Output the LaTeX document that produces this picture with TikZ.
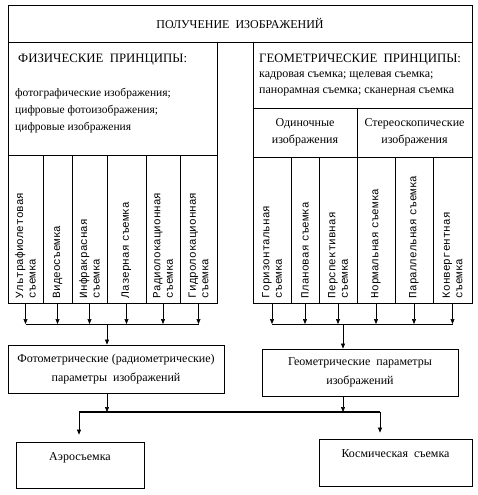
\documentclass[tikz,border=0pt]{standalone}
\usepackage{fontspec}
\setmainfont{Liberation Serif}
\newfontfamily\colfont{Liberation Mono}
\usetikzlibrary{positioning, arrows.meta}

\begin{document}
\begin{tikzpicture}[x=1pt, y=-1pt,
    box/.style={draw, line width=0.8pt, inner sep=0pt, align=center, font=\fontsize{12}{19}\selectfont},
    txt/.style={inner sep=0pt, align=left, font=\fontsize{11.5}{17}\selectfont},
    head/.style={inner sep=0pt, font=\fontsize{12.8}{15}\selectfont},
    col/.style={draw, line width=0.6pt, rotate=90, minimum height=#1, minimum width=148pt, text width=138pt,
        inner xsep=5pt, inner ysep=0pt, align=left, font=\colfont\fontsize{11}{12.5}\selectfont},
    rcol/.style={col=#1, minimum width=146pt, text width=136pt},
    arr/.style={-{Triangle[length=5pt, width=4pt]}, line width=0.6pt}]

    \useasboundingbox (0,0) rectangle (478,495);

    \node[box, minimum width=464pt, minimum height=37pt] (title) at (240,23.5) {ПОЛУЧЕНИЕ\ \ ИЗОБРАЖЕНИЙ};

    % physical side
    \node[box, minimum width=209pt, minimum height=113pt] (phys) at (112.5,98.5) {};
    \node[head, anchor=west] (physh) at (18,60) {ФИЗИЧЕСКИЕ\ \ ПРИНЦИПЫ:};
    \node[txt, anchor=north west] (physl) at (15,88) {фотографические изображения;\\цифровые фотоизображения;\\цифровые изображения};

    \node[col=35pt] (f1) at (25.5,229) {Ультрафиолетовая\\съемка};
    \node[col=29pt] (f2) at (57.5,229) {Видеосъемка};
    \node[col=35pt] (f3) at (89.5,229) {Инфракрасная\\съемка};
    \node[col=39pt] (f4) at (126.5,229) {Лазерная съемка};
    \node[col=34pt] (f5) at (163,229) {Радиолокационная\\съемка};
    \node[col=37pt] (f6) at (198.5,229) {Гидролокационная\\съемка};

    % geometric side
    \node[box, minimum width=219pt, minimum height=66pt] (geo) at (362.5,75) {};
    \node[head, anchor=west] (geoh) at (259,60) {ГЕОМЕТРИЧЕСКИЕ\ \ ПРИНЦИПЫ:};
    \node[txt, anchor=north west, font=\fontsize{12}{16}\selectfont] (geol) at (259,72) {кадровая съемка; щелевая съемка;\\панорамная съемка; сканерная съемка};
    \node[box, minimum width=104pt, minimum height=49pt, font=\fontsize{12}{17}\selectfont] (single) at (305,132.5) {Одиночные\\изображения};
    \node[box, minimum width=115pt, minimum height=49pt, font=\fontsize{12}{17}\selectfont] (stereo) at (414.5,132.5) {Стереоскопические\\изображения};

    \node[rcol=38pt] (g1) at (272,230) {Горизонтальная\\съемка};
    \node[rcol=28pt] (g2) at (305,230) {Плановая съемка};
    \node[rcol=38pt] (g3) at (338,230) {Перспективная\\съемка};
    \node[rcol=38pt] (g4) at (376,230) {Нормальная съемка};
    \node[rcol=38pt] (g5) at (414,230) {Параллельная съемка};
    \node[rcol=39pt] (g6) at (452.5,230) {Конвергентная\\съемка};

    % results
    \node[box, minimum width=216pt, minimum height=48pt] (photo) at (116,369) {Фотометрические (радиометрические)\\параметры\ \ изображений};
    \node[box, minimum width=196pt, minimum height=47pt] (geomp) at (360,372.5) {Геометрические\ \ параметры\\изображений};
    \node[box, minimum width=128pt, minimum height=46pt, text depth=17pt] (aero) at (80,465) {Аэросъемка};
    \node[box, minimum width=153pt, minimum height=47pt, text depth=17pt] (kosm) at (395.5,462.5) {Космическая\ \ съемка};

    \coordinate (busL) at (107,324);
    \coordinate (busR) at (343,324);
    \coordinate (barL) at (79,412);
    \coordinate (barR) at (380,412);

    % Edges
    \foreach \i in {1,...,6} {
        \draw[arr] (f\i.west) -- (f\i.west |- busL);
        \draw[arr] (g\i.west) -- (g\i.west |- busR);
    }
    \draw[line width=0.6pt] (f1.west |- busL) -- (f6.west |- busL);
    \draw[line width=0.6pt] (g1.west |- busR) -- (g6.west |- busR);
    \draw[arr] (busL) -- (busL |- photo.north);
    \draw[arr] (busR) -- (busR |- geomp.north);

    \draw[arr] (photo.south -| busL) -- (busL |- barL);
    \draw[arr] (geomp.south -| busR) -- (busR |- barL);
    \draw[line width=1.6pt] (barL) -- (barR);
    \draw[arr, shorten >=7pt] (barL) -- (barL |- aero.north);
    \draw[arr, shorten >=6pt] (barR) -- (barR |- kosm.north);
\end{tikzpicture}
\end{document}
